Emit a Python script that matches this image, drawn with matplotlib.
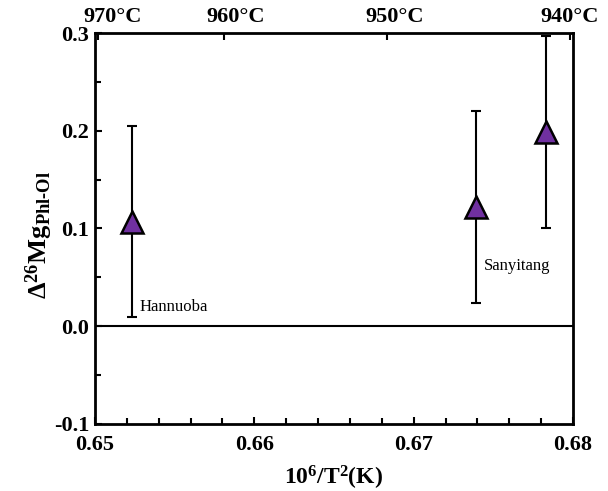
import matplotlib
matplotlib.use("Agg")
import matplotlib.pyplot as plt
from matplotlib.ticker import MultipleLocator, FixedLocator
import matplotlib.transforms as mtransforms

plt.rcParams['font.family'] = ['Liberation Serif', 'DejaVu Serif']
plt.rcParams['mathtext.fontset'] = 'custom'
plt.rcParams['mathtext.rm'] = 'Liberation Serif:bold'
plt.rcParams['mathtext.it'] = 'Liberation Serif:bold'
plt.rcParams['mathtext.bf'] = 'Liberation Serif:bold'

# data
sites = ['Hannuoba', 'Sanyitang', 'Sanyitang']
x_vals = [0.6523, 0.6739, 0.6783]
y_vals = [0.107, 0.122, 0.199]
y_err = [0.098, 0.098, 0.098]

label_texts = ['Hannuoba', 'Sanyitang']
label_x = [0.6528, 0.6744]
label_y = [0.020, 0.062]

top_tick_pos = [0.6502, 0.6581, 0.6683, 0.6798]
top_label_pos = [0.6511, 0.6588, 0.6688, 0.6798]
top_labels = ['970°C', '960°C', '950°C', '940°C']

fig = plt.figure(figsize=(6.08, 4.91), dpi=100)
ax = fig.add_axes([0.15625, 0.13646, 0.7862, 0.79633])

ax.axhline(0, color='black', lw=1.5, zorder=1)
ax.errorbar(x_vals, y_vals, yerr=y_err, fmt='none', ecolor='black',
            elinewidth=1.5, capsize=3.5, capthick=1.5, zorder=2)
ax.plot(x_vals, y_vals, linestyle='none', marker='^', markersize=15.5,
        markerfacecolor='#7030A0', markeredgecolor='black',
        markeredgewidth=1.8, zorder=3)

for t, xx, yy in zip(label_texts, label_x, label_y):
    ax.text(xx, yy, t, fontsize=12, ha='left', va='center')

ax.set_xlim(0.65, 0.68)
ax.set_ylim(-0.1, 0.3)
ax.xaxis.set_major_locator(MultipleLocator(0.01))
ax.xaxis.set_minor_locator(MultipleLocator(0.002))
ax.yaxis.set_major_locator(MultipleLocator(0.1))
ax.yaxis.set_minor_locator(MultipleLocator(0.05))
ax.xaxis.set_major_formatter(plt.FuncFormatter(lambda v, p: f'{v:.2f}'))
ax.yaxis.set_major_formatter(plt.FuncFormatter(lambda v, p: f'{v:.1f}'))

ax.tick_params(axis='both', which='both', direction='in', top=False, right=False,
               width=1.5)
ax.tick_params(axis='both', which='major', length=5, labelsize=16)
ax.tick_params(axis='both', which='minor', length=4)
ax.tick_params(axis='x', which='major', pad=8)
ax.tick_params(axis='y', which='major', pad=4)
for lab in ax.get_xticklabels() + ax.get_yticklabels():
    lab.set_fontweight('bold')

for s in ax.spines.values():
    s.set_linewidth(2.0)

# top axis ticks (temperature)
ax2 = ax.twiny()
ax2.set_xlim(ax.get_xlim())
ax2.xaxis.set_major_locator(FixedLocator(top_tick_pos))
ax2.set_xticklabels([])
ax2.tick_params(axis='x', direction='in', length=5, width=1.5)
for s in ax2.spines.values():
    s.set_visible(False)
trans = mtransforms.blended_transform_factory(ax.transData, ax.transAxes)
for xx, t in zip(top_label_pos, top_labels):
    ax.text(xx, 1.0 + 6/391, t, transform=trans, ha='center', va='bottom',
            fontsize=16, fontweight='bold')

ax.set_xlabel('10$^{6}$/T$^{2}$(K)', fontsize=17, fontweight='bold', labelpad=6)
ax.set_ylabel('Δ$^{26}$Mg$_{Phl\\text{-}Ol}$', fontsize=19, fontweight='bold')
ax.yaxis.set_label_coords(-0.083, 0.483)

fig.savefig('out.png', dpi=100)
